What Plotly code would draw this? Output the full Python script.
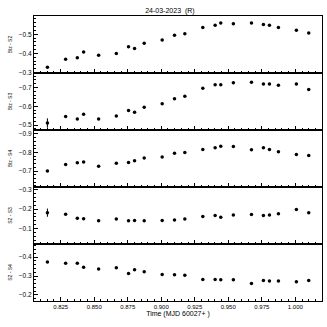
import plotly.graph_objects as go
from plotly.subplots import make_subplots

# time (MJD 60027+)
t = [0.8151, 0.8287, 0.8374, 0.8421, 0.8533, 0.8665, 0.8756, 0.8801, 0.8873,
     0.9007, 0.9099, 0.9176, 0.9310, 0.9402, 0.9444, 0.9538, 0.9673, 0.9762,
     0.9807, 0.9874, 1.0008, 1.0100]

blz_s2 = [-0.328, -0.370, -0.377, -0.407, -0.391, -0.400, -0.435, -0.426, -0.453,
          -0.470, -0.495, -0.502, -0.535, -0.547, -0.558, -0.554, -0.558, -0.551,
          -0.547, -0.535, -0.521, -0.507]
blz_s3 = [-0.511, -0.546, -0.533, -0.558, -0.533, -0.549, -0.577, -0.568, -0.595,
          -0.614, -0.640, -0.653, -0.696, -0.714, -0.714, -0.725, -0.728, -0.719,
          -0.719, -0.712, -0.719, -0.689]
blz_s4 = [-0.700, -0.735, -0.744, -0.749, -0.726, -0.742, -0.746, -0.756, -0.770,
          -0.775, -0.796, -0.800, -0.816, -0.826, -0.833, -0.832, -0.814, -0.825,
          -0.816, -0.804, -0.789, -0.784]
s2_s3 = [-0.182, -0.174, -0.154, -0.151, -0.140, -0.149, -0.140, -0.142, -0.140,
         -0.142, -0.144, -0.149, -0.163, -0.167, -0.158, -0.170, -0.172, -0.168,
         -0.170, -0.177, -0.198, -0.182]
s2_s4 = [-0.374, -0.368, -0.368, -0.347, -0.337, -0.344, -0.314, -0.333, -0.323,
         -0.309, -0.307, -0.304, -0.282, -0.282, -0.281, -0.281, -0.261, -0.277,
         -0.274, -0.274, -0.270, -0.277]

# errors (only the first point has a visible bar)
err_s2 = [0.004] * 22
err_s3 = [0.025] + [0.004] * 21
err_s4 = [0.004] * 22
err_23 = [0.021] + [0.004] * 21
err_24 = [0.004] * 22

labels = ["Blz - S2", "Blz - S3", "Blz - S4", "S2 - S3", "S2 - S4"]
series = [blz_s2, blz_s3, blz_s4, s2_s3, s2_s4]
errors = [err_s2, err_s3, err_s4, err_23, err_24]
yranges = [[-0.298, -0.595], [-0.474, -0.777], [-0.614, -0.921],
           [-0.021, -0.314], [-0.168, -0.470]]

fig = make_subplots(rows=5, cols=1, shared_xaxes=True, vertical_spacing=0)

for i, (ys, es) in enumerate(zip(series, errors)):
    fig.add_trace(go.Scatter(
        x=t, y=ys, mode="markers",
        marker=dict(color="black", size=3.5),
        error_y=dict(type="data", array=es, color="black", thickness=1, width=0),
        showlegend=False), row=i + 1, col=1)
    fig.update_yaxes(range=yranges[i], dtick=0.1, tickformat=".1f",
                     minor=dict(dtick=0.02, ticks="inside", ticklen=2, tickcolor="black"),
                     title_text=labels[i], title_font=dict(size=5, color="black"),
                     title_standoff=6, row=i + 1, col=1)

fig.update_xaxes(range=[0.8051, 1.0199], dtick=0.025, tickformat=".3f",
                 ticks="inside", ticklen=4, tickcolor="black",
                 tickfont=dict(size=6, color="black"),
                 minor=dict(dtick=0.005, ticks="inside", ticklen=2, tickcolor="black"),
                 showline=True, linecolor="black", linewidth=1.2, mirror=True,
                 showgrid=False, zeroline=False)
fig.update_yaxes(ticks="inside", ticklen=4, tickcolor="black",
                 tickfont=dict(size=6.5, color="black"),
                 showline=True, linecolor="black", linewidth=1.2, mirror=True,
                 showgrid=False, zeroline=False)
fig.update_xaxes(title_text="Time (MJD 60027+ )",
                 title_font=dict(size=7, color="black"),
                 title_standoff=1, row=5, col=1)

fig.update_layout(
    width=327, height=327,
    margin=dict(l=34, r=5, t=16, b=26),
    plot_bgcolor="white", paper_bgcolor="white",
    font=dict(family="Liberation Sans", size=7, color="black"),
    title=dict(text="24-03-2023  (R)", xref="paper", x=0.472, xanchor="center",
               yref="container", y=0.969, yanchor="middle",
               font=dict(size=7, color="black")),
)

fig.write_html("out.html", config={"displayModeBar": False},
               post_script="document.body.style.margin='0';")
